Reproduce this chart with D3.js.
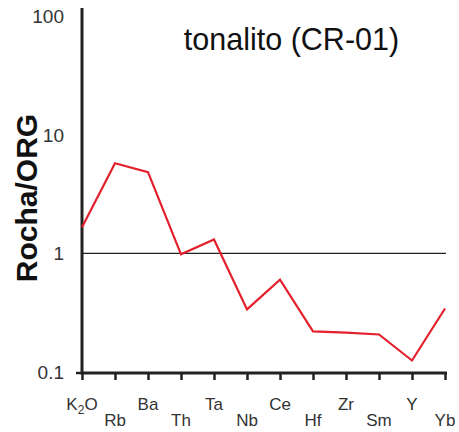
<!DOCTYPE html>
<html><head><meta charset="utf-8">
<script src="https://cdn.jsdelivr.net/npm/d3@7"></script>
<style>html,body{margin:0;padding:0;background:#fff;}svg{display:block;}</style>
</head><body>
<svg id="c" width="459" height="432"></svg>
<script>
const categories = ["K2O","Rb","Ba","Th","Ta","Nb","Ce","Hf","Zr","Sm","Y","Yb"];
const values = [1.66, 5.75, 4.83, 0.98, 1.31, 0.337, 0.60, 0.22, 0.215, 0.207, 0.125, 0.343];
const yTicks = [0.1, 1, 10, 100];
const yTickLabels = ["0.1", "1", "10", "100"];
const title = "tonalito (CR-01)";
const yLabel = "Rocha/ORG";

const svg = d3.select("#c");
const x = d3.scalePoint().domain(categories).range([82, 445]);
const y = d3.scaleLog().domain([0.1, 100]).range([372, 16]);

// reference line at 1
svg.append("line").attr("x1", x.range()[0]).attr("x2", 446)
  .attr("y1", y(1)).attr("y2", y(1)).attr("stroke", "#222").attr("stroke-width", 1.2);

// x axis
const xAxis = d3.axisBottom(x).tickSize(7).tickFormat("");
const gx = svg.append("g").attr("transform", `translate(0,${y(0.1)+1})`).call(xAxis);
gx.select(".domain").attr("stroke", "#222").attr("stroke-width", 3).attr("d", `M${x.range()[0]},0H${x.range()[1]+2}`);
gx.selectAll(".tick line").attr("stroke", "#222").attr("stroke-width", 2.5);

// x labels, staggered
const lab = svg.append("g").attr("font-family", "Liberation Sans, Arial, sans-serif")
  .attr("font-size", 17).attr("fill", "#333").attr("text-anchor", "middle");
categories.forEach((c, i) => {
  const t = lab.append("text").attr("x", x(c)).attr("y", i % 2 === 0 ? 410 : 426);
  if (c === "K2O") {
    t.append("tspan").text("K");
    t.append("tspan").attr("font-size", 12).attr("dy", 4).text("2");
    t.append("tspan").attr("dy", -4).text("O");
  } else t.text(c);
});

// y axis
svg.append("line").attr("x1", 82).attr("x2", 82).attr("y1", 8).attr("y2", y(0.1)+2.5)
  .attr("stroke", "#222").attr("stroke-width", 3);
svg.append("line").attr("x1", 76).attr("x2", 82).attr("y1", y(0.1)+1).attr("y2", y(0.1)+1)
  .attr("stroke", "#222").attr("stroke-width", 2.5);
const yl = svg.append("g").attr("font-family", "Liberation Sans, Arial, sans-serif")
  .attr("font-size", 19).attr("fill", "#333").attr("text-anchor", "end");
yTicks.forEach((v, i) => {
  yl.append("text").attr("x", 64).attr("y", y(v) + 7).text(yTickLabels[i]);
});

// data line
const line = d3.line().x((d, i) => x(categories[i])).y(d => y(d));
svg.append("path").datum(values).attr("d", line).attr("fill", "none")
  .attr("stroke", "#e3202b").attr("stroke-width", 2.2).attr("stroke-linejoin", "miter");

// title
svg.append("text").attr("x", 291.5).attr("y", 50).attr("text-anchor", "middle")
  .attr("font-family", "Liberation Sans, Arial, sans-serif").attr("font-size", 30.5).attr("fill", "#111")
  .text(title);

// y label
svg.append("text").attr("transform", "translate(37,198) rotate(-90)").attr("text-anchor", "middle")
  .attr("font-family", "Liberation Sans, Arial, sans-serif").attr("font-size", 30).attr("font-weight", "bold")
  .attr("fill", "#111").text(yLabel);
</script>
</body></html>
